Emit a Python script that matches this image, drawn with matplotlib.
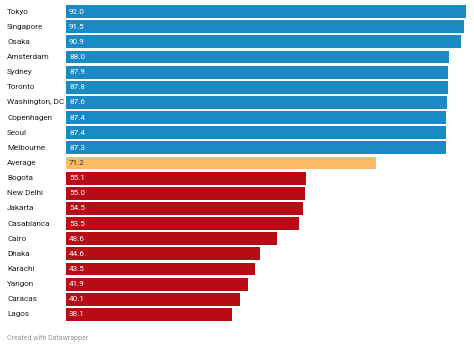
import matplotlib.pyplot as plt
import numpy as np

cities = ['Tokyo', 'Singapore', 'Osaka', 'Amsterdam', 'Sydney', 'Toronto',
          'Washington, DC', 'Copenhagen', 'Seoul', 'Melbourne', 'Average',
          'Bogota', 'New Delhi', 'Jakarta', 'Casablanca', 'Cairo', 'Dhaka',
          'Karachi', 'Yangon', 'Caracas', 'Lagos']
scores = [92.0, 91.5, 90.9, 88.0, 87.9, 87.8, 87.6, 87.4, 87.4, 87.3, 71.2,
          55.1, 55.0, 54.5, 53.5, 48.6, 44.6, 43.5, 41.9, 40.1, 38.1]

BLUE = '#1a8ac4'
ORANGE = '#fdbb63'
RED = '#b80c17'

colors = []
for c, v in zip(cities, scores):
    if c == 'Average':
        colors.append(ORANGE)
    elif v > 71.2:
        colors.append(BLUE)
    else:
        colors.append(RED)

plt.rcParams['font.family'] = ['Roboto', 'DejaVu Sans']

W, H = 474, 348
fig = plt.figure(figsize=(W / 100, H / 100), dpi=100)
left, right = 66, 466
top, bottom = 4, 322
ax = fig.add_axes([left / W, 1 - bottom / H, (right - left) / W, (bottom - top) / H])

n = len(cities)
y = np.arange(n)
ax.barh(y, scores, height=0.84, color=colors)
ax.set_xlim(0, 92.0)
ax.set_ylim(n - 0.5, -0.5)
ax.axis('off')

for i, (c, v) in enumerate(zip(cities, scores)):
    ypix = 1 - (top + (i + 0.5) * (bottom - top) / n) / H
    fig.text(7 / W, ypix, c, ha='left', va='center', fontsize=5.9, color='#222222')
    ax.text(0.7, i, f'{v:.1f}', ha='left', va='center', fontsize=5.9,
            color='#333333' if c == 'Average' else 'white')

fig.text(7 / W, 1 - 338 / H, 'Created with Datawrapper', ha='left', va='center',
         fontsize=5.0, color='#999999')

fig.savefig('out.png', dpi=100)
